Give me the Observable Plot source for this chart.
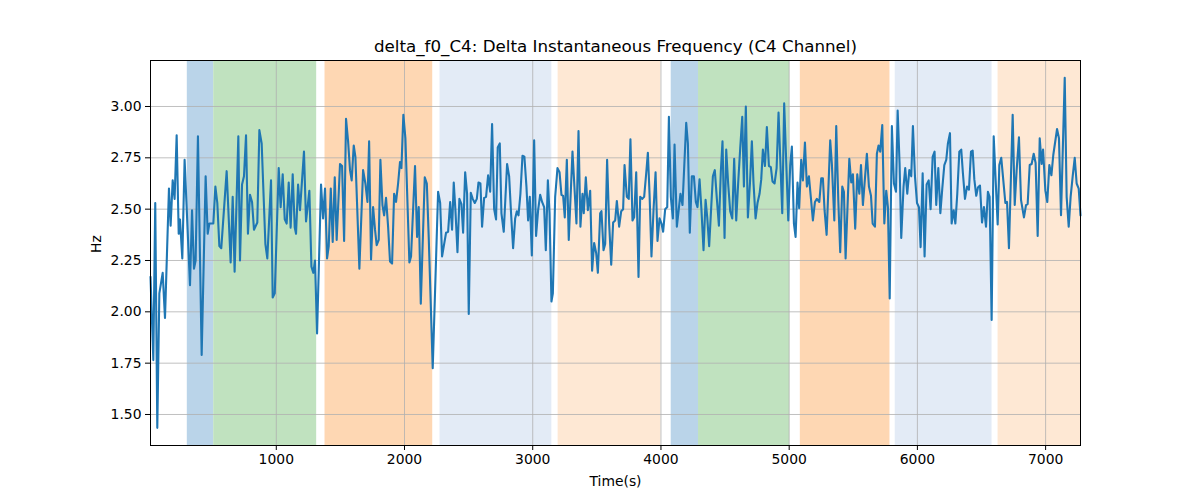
<!DOCTYPE html>
<html>
<head>
<meta charset="utf-8">
<script src="https://cdn.jsdelivr.net/npm/d3@7"></script>
<script src="https://cdn.jsdelivr.net/npm/@observablehq/plot@0.6"></script>
<style>
  html, body { margin: 0; padding: 0; background: white; }
</style>
</head>
<body>
<div id="chart"></div>
<script>
const chartTitle = "delta_f0_C4: Delta Instantaneous Frequency (C4 Channel)";
const xLabel = "Time(s)";
const yLabel = "Hz";
const xTicks = [1000, 2000, 3000, 4000, 5000, 6000, 7000];
const yTicks = [1.50, 1.75, 2.00, 2.25, 2.50, 2.75, 3.00];
const xDomain = [19, 7272];
const yDomain = [1.349, 3.224];

const bandStart = [306, 512, 1380, 2277, 3198, 4080, 4293, 5087, 5827, 6629];
const bandEnd   = [512, 1315, 2220, 3149, 3999, 4293, 5003, 5786, 6582, 7272];
const bandColor = ["#bad4e9", "#c0e2bf", "#fed7b3", "#e3ebf6", "#fee8d4",
                   "#bad4e9", "#c0e2bf", "#fed7b3", "#e3ebf6", "#fee8d4"];

// [time (s), Hz]
const samples = [
[19,2.17],[41,1.765],[56,2.53],[72,1.435],[88,2.09],[114,2.19],[132,1.97],[163,2.60],[176,2.42],[192,2.64],[207,2.55],[223,2.86],[239,2.38],[249,2.45],[267,2.26],[285,2.74],[327,2.13],[343,2.495],[358,2.21],[371,2.25],[389,2.855],[418,1.79],[449,2.66],[465,2.38],[478,2.43],[509,2.43],[525,2.61],[540,2.53],[556,2.32],[571,2.31],[613,2.685],[644,2.24],[660,2.56],[675,2.195],[704,2.855],[717,2.25],[733,2.62],[748,2.66],[764,2.86],[779,2.38],[795,2.57],[811,2.535],[826,2.40],[852,2.435],[868,2.885],[886,2.82],[915,2.33],[930,2.26],[959,2.64],[972,2.07],[988,2.09],[1019,2.70],[1034,2.51],[1050,2.67],[1066,2.45],[1081,2.43],[1097,2.63],[1112,2.41],[1128,2.67],[1144,2.41],[1154,2.38],[1170,2.62],
[1185,2.495],[1216,2.78],[1232,2.44],[1258,2.59],[1274,2.22],[1289,2.19],[1302,2.25],[1318,1.895],[1349,2.62],[1365,2.455],[1380,2.60],[1396,2.26],[1409,2.32],[1425,2.60],[1440,2.34],[1456,2.655],[1471,2.35],[1497,2.72],[1513,2.71],[1529,2.345],[1544,2.94],[1560,2.83],[1575,2.69],[1588,2.64],[1604,2.81],[1617,2.755],[1648,2.21],[1677,2.69],[1695,2.625],[1711,2.535],[1724,2.83],[1739,2.255],[1755,2.51],[1770,2.40],[1783,2.325],[1799,2.35],[1812,2.74],[1828,2.52],[1841,2.47],[1856,2.555],[1872,2.415],[1887,2.245],[1903,2.235],[1919,2.575],[1934,2.535],[1950,2.625],[1965,2.73],[1976,2.70],[1991,2.96],[2007,2.845],[2038,2.24],[2051,2.27],[2082,2.71],[2098,2.365],[2111,2.51],[2127,2.04],[2158,2.655],[2174,2.625],[2189,2.36],[2220,1.725],[2262,2.585],[2278,2.53],[2293,2.27],[2309,2.33],[2324,2.385],[2340,2.39],[2356,2.535],[2371,2.40],[2384,2.63],[2397,2.495],[2413,2.29],[2428,2.55],[2444,2.525],[2457,2.385],[2473,2.68],[2488,2.575],
[2501,1.99],[2517,2.58],[2532,2.55],[2548,2.53],[2564,2.55],[2577,2.63],[2592,2.625],[2605,2.415],[2621,2.555],[2636,2.56],[2652,2.665],[2668,2.585],[2683,2.915],[2699,2.50],[2714,2.45],[2727,2.80],[2743,2.82],[2756,2.48],[2774,2.39],[2800,2.72],[2816,2.66],[2831,2.48],[2847,2.31],[2863,2.455],[2876,2.49],[2889,2.47],[2904,2.575],[2920,2.76],[2935,2.755],[2951,2.61],[2964,2.445],[2977,2.56],[2993,2.275],[3011,2.835],[3026,2.37],[3042,2.495],[3058,2.57],[3073,2.535],[3089,2.51],[3102,2.30],[3118,2.64],[3131,2.48],[3146,2.05],[3157,2.09],[3175,2.56],[3193,2.70],[3209,2.68],[3224,2.57],[3237,2.565],[3250,2.46],[3266,2.74],[3281,2.35],
[3310,2.78],[3341,2.43],[3357,2.88],[3372,2.415],[3388,2.575],[3398,2.48],[3414,2.655],[3430,2.495],[3448,2.59],[3463,2.20],[3479,2.335],[3495,2.285],[3508,2.19],[3526,2.48],[3536,2.49],[3552,2.30],[3565,2.33],[3580,2.74],[3596,2.43],[3612,2.23],[3627,2.435],[3643,2.445],[3656,2.54],[3674,2.415],[3690,2.49],[3705,2.50],[3716,2.715],[3734,2.56],[3749,2.55],[3762,2.84],[3778,2.445],[3791,2.46],[3807,2.68],[3825,2.17],[3838,2.56],[3853,2.55],[3869,2.56],[3885,2.675],[3898,2.775],[3911,2.575],[3926,2.27],[3942,2.495],[3958,2.68],[3973,2.345],[3989,2.455],[4004,2.43],[4017,2.39],[4033,2.50],[4049,2.51],[4062,2.95],[4077,2.56],[4093,2.455],[4106,2.815],[4124,2.415],
[4152,2.575],[4168,2.52],[4197,2.92],[4210,2.82],[4225,2.385],[4241,2.66],[4257,2.66],[4272,2.535],[4285,2.51],[4301,2.645],[4316,2.495],[4332,2.30],[4348,2.545],[4361,2.46],[4376,2.32],[4392,2.51],[4405,2.66],[4420,2.69],[4436,2.55],[4452,2.42],[4467,2.685],[4480,2.83],[4496,2.36],[4509,2.79],[4524,2.625],[4540,2.49],[4556,2.455],[4571,2.745],[4587,2.445],[4602,2.625],[4618,2.795],[4634,2.95],[4647,2.61],[4662,3.00],[4678,2.46],[4694,2.625],[4709,2.83],[4722,2.625],[4738,2.455],[4753,2.53],[4769,2.575],[4782,2.645],[4795,2.79],[4811,2.71],[4826,2.90],[4842,2.71],[4857,2.705],[4870,2.635],[4886,2.625],[4902,2.70],[4917,2.97],[4946,2.48],[4961,3.015],
[4993,2.445],[5008,2.715],[5021,2.805],[5037,2.43],[5050,2.365],[5065,2.63],[5078,2.505],[5094,2.74],[5107,2.64],[5123,2.825],[5138,2.61],[5154,2.66],[5170,2.55],[5185,2.445],[5201,2.535],[5216,2.55],[5235,2.535],[5250,2.65],[5263,2.65],[5276,2.495],[5292,2.375],[5320,2.835],[5333,2.72],[5352,2.445],[5367,2.905],[5383,2.545],[5398,2.29],[5414,2.61],[5427,2.585],[5440,2.26],[5469,2.745],[5484,2.63],[5497,2.67],[5515,2.405],[5531,2.67],[5547,2.575],[5560,2.715],[5575,2.52],[5591,2.65],[5606,2.77],[5622,2.61],[5638,2.565],[5651,2.43],[5669,2.415],[5684,2.77],[5697,2.81],[5710,2.78],[5726,2.91],[5742,2.43],[5757,2.59],[5770,2.51],[5784,2.065],
[5801,2.905],[5817,2.625],[5833,2.585],[5846,2.98],[5861,2.72],[5874,2.36],[5892,2.61],[5905,2.70],[5921,2.575],[5937,2.69],[5952,2.66],[5965,2.905],[5981,2.66],[5997,2.53],[6012,2.51],[6025,2.315],[6041,2.675],[6056,2.27],[6072,2.62],[6088,2.64],[6103,2.50],[6119,2.755],[6134,2.78],[6147,2.52],[6163,2.70],[6179,2.48],[6194,2.60],[6210,2.715],[6225,2.74],[6238,2.82],[6254,2.87],[6267,2.43],[6283,2.495],[6296,2.43],[6311,2.575],[6327,2.78],[6342,2.79],[6355,2.675],[6371,2.55],[6387,2.61],[6402,2.595],[6418,2.78],[6431,2.785],[6444,2.645],[6459,2.565],[6472,2.605],[6488,2.615],[6504,2.435],[6519,2.51],[6535,2.415],[6550,2.585],[6563,2.56],[6579,1.96],[6595,2.855],
[6626,2.425],[6639,2.715],[6654,2.75],[6670,2.64],[6686,2.53],[6699,2.535],[6714,2.31],[6743,2.96],[6759,2.52],[6774,2.69],[6792,2.85],[6808,2.545],[6831,2.46],[6847,2.52],[6860,2.525],[6876,2.715],[6891,2.72],[6907,2.77],[6922,2.725],[6938,2.37],[6954,2.845],[6969,2.72],[6980,2.79],[6998,2.59],[7013,2.535],[7029,2.715],[7045,2.665],[7060,2.765],[7089,2.89],[7104,2.845],[7120,2.47],[7149,3.14],[7164,2.56],[7180,2.415],[7195,2.56],[7211,2.66],[7227,2.75],[7242,2.625],[7258,2.60],[7272,2.47]
];

const bands = bandStart.map((s, i) => ({start: s, end: bandEnd[i], color: bandColor[i]}));
const series = samples.map(([t, v]) => ({t, v}));

const fs = 13.9;
const chart = Plot.plot({
  width: 1200,
  height: 500,
  marginLeft: 150,
  marginRight: 120,
  marginTop: 60,
  marginBottom: 55,
  style: {fontFamily: "DejaVu Sans", fontSize: fs + "px", color: "black", background: "white", overflow: "visible"},
  x: {domain: xDomain},
  y: {domain: yDomain},
  marks: [
    Plot.rect(bands, {x1: "start", x2: "end", fill: d => d.color}),
    Plot.gridX(xTicks, {stroke: "#b0b0b0", strokeOpacity: 1, strokeWidth: 0.8}),
    Plot.gridY(yTicks, {stroke: "#b0b0b0", strokeOpacity: 1, strokeWidth: 0.8}),
    Plot.line(series, {x: "t", y: "v", stroke: "#1f77b4", strokeWidth: 2.1}),
    Plot.frame({stroke: "black", strokeWidth: 1}),
    Plot.axisX({ticks: xTicks, tickSize: 5, tickPadding: 4, label: null, fontSize: fs, tickFormat: d => String(d)}),
    Plot.axisY({ticks: yTicks, tickSize: 5, tickPadding: 4, label: null, fontSize: fs, tickFormat: d3.format(".2f")}),
    Plot.text([chartTitle], {frameAnchor: "top", lineAnchor: "middle", dy: -14, fontSize: 16.7, fill: "black"}),
    Plot.text([xLabel], {frameAnchor: "bottom", lineAnchor: "middle", dy: 36, fontSize: fs, fill: "black"}),
    Plot.text([yLabel], {frameAnchor: "left", lineAnchor: "middle", dx: -54, rotate: -90, fontSize: fs, fill: "black"})
  ]
});
document.getElementById("chart").appendChild(chart);
</script>
</body>
</html>
